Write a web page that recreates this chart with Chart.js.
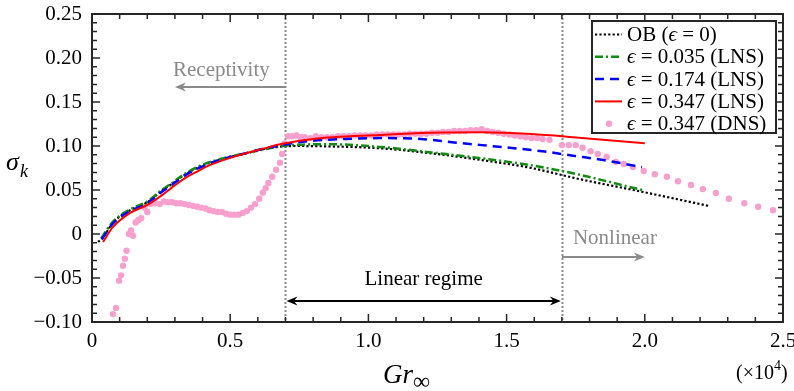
<!DOCTYPE html>
<html><head><meta charset="utf-8">
<script src="https://cdn.jsdelivr.net/npm/chart.js@4"></script>
<style>html,body{margin:0;padding:0;background:#fff}#wrap{width:794px;height:391px}</style>
</head><body><div id="wrap"><canvas id="c" width="794" height="391"></canvas></div>
<script>
// ---- data (Gr in units of 1e4) ----
const obGr    = [0.022,0.04,0.076,0.138,0.2,0.257,0.29,0.32,0.35,0.38,0.41,0.44,0.5,0.56,0.62,0.69,0.75,0.86,1.04,1.22,1.41,1.59,1.70,1.74,1.99,2.23];
const obSigma = [-0.009,-0.004,0.013,0.027,0.036,0.05,0.057,0.064,0.070,0.075,0.079,0.082,0.0875,0.092,0.0965,0.0995,0.100,0.0995,0.0975,0.092,0.084,0.075,0.067,0.064,0.048,0.032];

const lns035Gr    = [0.033,0.076,0.138,0.2,0.257,0.29,0.32,0.35,0.38,0.41,0.44,0.5,0.56,0.62,0.69,0.72,0.86,1.04,1.22,1.41,1.59,1.74,1.99];
const lns035Sigma = [-0.005,0.014,0.028,0.037,0.051,0.058,0.065,0.071,0.076,0.080,0.083,0.088,0.092,0.096,0.100,0.101,0.102,0.099,0.093,0.086,0.078,0.069,0.050];

const lns174Gr    = [0.035,0.076,0.138,0.2,0.257,0.29,0.32,0.35,0.38,0.41,0.44,0.5,0.56,0.62,0.69,0.72,0.8,0.92,1.04,1.19,1.31,1.41,1.51,1.63,1.74,1.85,1.99];
const lns174Sigma = [-0.006,0.012,0.026,0.035,0.049,0.056,0.063,0.069,0.074,0.078,0.082,0.0875,0.092,0.097,0.101,0.103,0.106,0.108,0.109,0.108,0.104,0.101,0.098,0.094,0.089,0.084,0.076];

const lns347Gr    = [0.04,0.076,0.138,0.2,0.257,0.29,0.32,0.35,0.38,0.41,0.44,0.5,0.56,0.62,0.68,0.8,1.04,1.22,1.41,1.59,1.74,2.0];
const lns347Sigma = [-0.009,0.008,0.024,0.033,0.045,0.053,0.060,0.066,0.071,0.076,0.080,0.0865,0.092,0.097,0.102,0.108,0.1125,0.115,0.1155,0.1135,0.110,0.103];

const dnsGr = [0.076,0.087,0.098,0.105,0.112,0.119,0.125,0.134,0.141,0.148,0.158,0.168,0.178,0.19,0.200,0.212,0.228,0.245,0.26,0.275,0.29,0.305,0.32,0.335,0.35,0.365,0.38,0.395,0.41,0.425,0.44,0.455,0.47,0.485,0.50,0.515,0.53,0.545,0.56,0.575,0.59,0.605,0.618,0.628,0.638,0.652,0.666,0.68,0.688,0.697,0.71,0.725,0.74,0.755,0.77,0.79,0.81,0.83,0.85,0.87,0.89,0.91,0.93,0.95,0.97,0.99,1.01,1.03,1.05,1.07,1.09,1.11,1.13,1.15,1.17,1.19,1.21,1.23,1.25,1.27,1.29,1.31,1.33,1.35,1.37,1.39,1.41,1.43,1.45,1.47,1.49,1.51,1.53,1.55,1.57,1.59,1.61,1.63,1.655,1.70,1.725,1.75,1.775,1.804,1.83,1.862,1.895,1.924,1.957,1.996,2.036,2.08,2.12,2.167,2.21,2.257,2.304,2.36,2.41,2.464];
const dnsSigma = [-0.091,-0.084,-0.053,-0.047,-0.036,-0.028,-0.019,0.000,0.004,-0.002,0.013,0.016,0.018,0.030,0.025,0.034,0.035,0.034,0.037,0.036,0.036,0.035,0.035,0.034,0.033,0.032,0.031,0.030,0.029,0.027,0.026,0.025,0.025,0.023,0.022,0.022,0.022,0.024,0.026,0.030,0.034,0.040,0.047,0.052,0.058,0.065,0.073,0.081,0.091,0.103,0.111,0.111,0.112,0.110,0.110,0.109,0.111,0.110,0.110,0.110,0.111,0.111,0.111,0.112,0.112,0.112,0.112,0.113,0.113,0.113,0.113,0.113,0.113,0.114,0.114,0.114,0.114,0.115,0.115,0.116,0.116,0.117,0.117,0.117,0.118,0.118,0.119,0.117,0.116,0.115,0.114,0.113,0.112,0.111,0.110,0.109,0.109,0.108,0.107,0.101,0.101,0.101,0.098,0.094,0.091,0.0875,0.082,0.0795,0.076,0.0716,0.068,0.065,0.060,0.0557,0.051,0.0466,0.040,0.035,0.031,0.027];

const xTickLabels = ['0','0.5','1.0','1.5','2.0','2.5'];
const yTickLabels = ['\u22120.10','\u22120.05','0','0.05','0.10','0.15','0.20','0.25'];
const legendLabels = [
  [['OB (',false],['\u03f5',true],[' = 0)',false]],
  [['\u03f5',true],[' = 0.035 (LNS)',false]],
  [['\u03f5',true],[' = 0.174 (LNS)',false]],
  [['\u03f5',true],[' = 0.347 (LNS)',false]],
  [['\u03f5',true],[' = 0.347 (DNS)',false]]
];

const SERIF = '"Liberation Serif","DejaVu Serif","Times New Roman",serif';
const PINK = 'rgb(247,160,205)';
const FRAME = '#262626';

function pts(xs, ys){ return xs.map((x,i)=>({x:x, y:ys[i]})); }

const lineBase = {showLine:true, pointRadius:0, fill:false, cubicInterpolationMode:'monotone'};
const datasets = [
  Object.assign({label:'OB', data:pts(obGr,obSigma), borderColor:'#000', borderWidth:2.2, borderDash:[2.2,2.2], order:4}, lineBase),
  Object.assign({label:'0.035', data:pts(lns035Gr,lns035Sigma), borderColor:'#138a13', borderWidth:2.5, borderDash:[8,3,2,3], order:3}, lineBase),
  Object.assign({label:'0.174', data:pts(lns174Gr,lns174Sigma), borderColor:'#0000ff', borderWidth:2.5, borderDash:[9,6], order:2}, lineBase),
  Object.assign({label:'0.347', data:pts(lns347Gr,lns347Sigma), borderColor:'#ff0000', borderWidth:2, order:1}, lineBase),
  {label:'DNS', data:pts(dnsGr,dnsSigma), showLine:false, pointRadius:3.2, pointBackgroundColor:PINK, pointBorderWidth:0, borderColor:PINK, order:5}
];

function richText(ctx, x, y, parts, size){
  let cx = x;
  for (const [t,it] of parts){
    ctx.font = (it?'italic ':'') + size + 'px ' + SERIF;
    ctx.fillText(t, cx, y);
    cx += ctx.measureText(t).width;
  }
}
function arrowHead(ctx, x, y, dir, color){
  ctx.save();
  ctx.fillStyle = color;
  ctx.beginPath();
  ctx.moveTo(x, y);
  ctx.lineTo(x - dir*11, y - 4.5);
  ctx.lineTo(x - dir*7.5, y);
  ctx.lineTo(x - dir*11, y + 4.5);
  ctx.closePath();
  ctx.fill();
  ctx.restore();
}

const decor = {
  id:'decor',
  beforeDatasetsDraw(chart){
    const {ctx, chartArea:a, scales:{x}} = chart;
    ctx.save();
    ctx.strokeStyle = '#8a8a8a'; ctx.lineWidth = 2; ctx.setLineDash([2,2]);
    for (const v of [0.7,1.7]){
      const px = Math.round(x.getPixelForValue(v))+0.5;
      ctx.beginPath(); ctx.moveTo(px, a.top); ctx.lineTo(px, a.bottom); ctx.stroke();
    }
    ctx.restore();
  },
  afterDraw(chart){
    const {ctx, chartArea:a, scales:{x,y}} = chart;
    ctx.save();
    // frame
    ctx.strokeStyle = FRAME; ctx.lineWidth = 2;
    ctx.strokeRect(a.left, a.top, a.right-a.left, a.bottom-a.top);
    // ticks
    ctx.lineWidth = 1.5;
    ctx.beginPath();
    for (let i=-10;i<=25;i++){
      const py = y.getPixelForValue(i/100);
      const L = (i%5===0)?8:5;
      ctx.moveTo(a.left, py); ctx.lineTo(a.left+L, py);
      ctx.moveTo(a.right, py); ctx.lineTo(a.right-L, py);
    }
    for (let i=0;i<=25;i++){
      const px = x.getPixelForValue(i/10);
      const L = (i%5===0)?8:5;
      ctx.moveTo(px, a.bottom); ctx.lineTo(px, a.bottom-L);
      ctx.moveTo(px, a.top); ctx.lineTo(px, a.top+L);
    }
    ctx.stroke();

    // annotations
    const gray = '#8a8a8a';
    ctx.textBaseline = 'middle';
    ctx.fillStyle = gray; ctx.strokeStyle = gray; ctx.lineWidth = 2;
    ctx.font = '21px ' + SERIF;
    ctx.textAlign = 'left';
    // Receptivity
    let ay = y.getPixelForValue(0.167);
    let x07 = x.getPixelForValue(0.7), x17 = x.getPixelForValue(1.7);
    let tipL = x.getPixelForValue(0.3);
    ctx.beginPath(); ctx.moveTo(x07, ay); ctx.lineTo(tipL+6, ay); ctx.stroke();
    arrowHead(ctx, tipL, ay, -1, gray);
    ctx.fillText('Receptivity', x.getPixelForValue(0.293), y.getPixelForValue(0.186));
    // Nonlinear
    ay = y.getPixelForValue(-0.026);
    let tipR = x.getPixelForValue(2.0);
    ctx.beginPath(); ctx.moveTo(x17, ay); ctx.lineTo(tipR-6, ay); ctx.stroke();
    arrowHead(ctx, tipR, ay, 1, gray);
    ctx.fillText('Nonlinear', x.getPixelForValue(1.74), y.getPixelForValue(-0.005));
    // Linear regime
    ctx.fillStyle = '#000'; ctx.strokeStyle = '#000';
    ay = y.getPixelForValue(-0.076);
    ctx.beginPath(); ctx.moveTo(x07+6, ay); ctx.lineTo(x17-6, ay); ctx.stroke();
    arrowHead(ctx, x07+1, ay, -1, '#000');
    arrowHead(ctx, x17-1, ay, 1, '#000');
    ctx.textAlign = 'center';
    ctx.fillText('Linear regime', (x07+x17)/2, y.getPixelForValue(-0.052));

    // axis titles
    ctx.textAlign = 'left'; ctx.textBaseline = 'alphabetic'; ctx.fillStyle = '#000';
    ctx.font = 'italic 27px ' + SERIF;
    ctx.fillText('Gr', 383, 383);
    let w = ctx.measureText('Gr').width;
    ctx.font = '24px ' + SERIF;
    ctx.fillText('\u221e', 383 + w, 389);
    ctx.font = 'italic 26px ' + SERIF;
    ctx.fillText('\u03c3', 6, 170);
    ctx.font = 'italic 18px ' + SERIF;
    ctx.fillText('k', 20, 177);
    // x10^4
    ctx.font = '20px ' + SERIF;
    ctx.fillText('(\u00d710', 736, 379);
    let w2 = ctx.measureText('(\u00d710').width;
    ctx.font = '14px ' + SERIF;
    ctx.fillText('4', 736 + w2, 370);
    let w3 = ctx.measureText('4').width;
    ctx.font = '20px ' + SERIF;
    ctx.fillText(')', 736 + w2 + w3, 379);

    // legend
    const L = {l:592, t:21, r:776, b:133};
    ctx.fillStyle = '#fff';
    ctx.fillRect(L.l, L.t, L.r-L.l, L.b-L.t);
    ctx.strokeStyle = FRAME; ctx.lineWidth = 2;
    ctx.strokeRect(L.l, L.t, L.r-L.l, L.b-L.t);
    ctx.textBaseline = 'middle';
    for (let i=0;i<5;i++){
      const ry = 34.5 + i*22.3;
      const ds = datasets[i];
      if (i<4){
        ctx.save();
        ctx.strokeStyle = ds.borderColor; ctx.lineWidth = ds.borderWidth;
        ctx.setLineDash(ds.borderDash || []);
        ctx.beginPath(); ctx.moveTo(595, ry); ctx.lineTo(622, ry); ctx.stroke();
        ctx.restore();
      } else {
        ctx.fillStyle = PINK;
        ctx.beginPath(); ctx.arc(609, ry, 3.2, 0, Math.PI*2); ctx.fill();
      }
      ctx.fillStyle = '#000';
      richText(ctx, 627, ry+1, legendLabels[i], 21);
    }
    ctx.restore();
  }
};

new Chart(document.getElementById('c').getContext('2d'), {
  type:'scatter',
  data:{datasets:datasets},
  options:{
    responsive:false, animation:false,
    layout:{padding:{left:0,right:11,top:14,bottom:0}},
    plugins:{legend:{display:false}, tooltip:{enabled:false}},
    scales:{
      x:{type:'linear', min:0, max:2.5,
         ticks:{stepSize:0.5, callback:(v,i)=>xTickLabels[i], font:{family:SERIF,size:21}, color:'#000', padding:7, maxRotation:0, autoSkip:false},
         grid:{display:false, drawTicks:false}, border:{display:false},
         afterFit(s){ s.height = 69; s.paddingLeft = 0; s.paddingRight = 0; }},
      y:{type:'linear', min:-0.1, max:0.25,
         ticks:{stepSize:0.05, callback:(v,i)=>yTickLabels[i], font:{family:SERIF,size:21}, color:'#000', padding:10, autoSkip:false},
         grid:{display:false, drawTicks:false}, border:{display:false},
         afterFit(s){ s.width = 92; s.paddingTop = 0; s.paddingBottom = 0; }}
    }
  },
  plugins:[decor]
});
</script>
</body></html>
